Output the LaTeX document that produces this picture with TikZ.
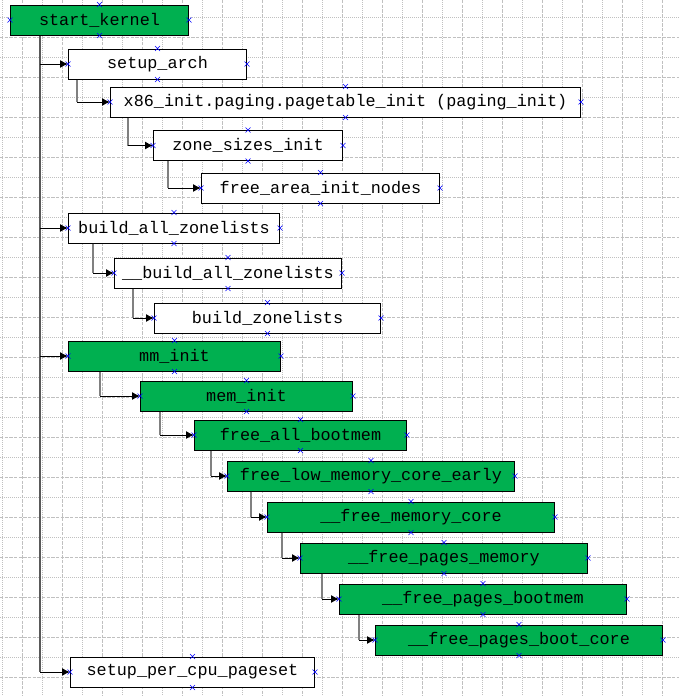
\documentclass[tikz,border=0pt]{standalone}
\usepackage{fontspec}
\setmonofont{Liberation Mono}
\definecolor{VSgreen}{HTML}{00B050}
\definecolor{gridgray}{HTML}{C0C0C0}
\definecolor{ptblue}{HTML}{0000FF}
\usetikzlibrary{arrows.meta,calc}

\begin{document}
\begin{tikzpicture}[x=0.75pt,y=-0.75pt,
  fn/.style={draw=black,line width=0.75pt,fill=white,minimum height=22.5pt,anchor=west,inner sep=0pt,
    font=\ttfamily\fontsize{12.6}{14}\selectfont},
  fngreen/.style={fn,fill=VSgreen},
  minorgrid/.style={gridgray,line width=0.75pt,dash pattern=on 0.75pt off 0.75pt},
  majorgrid/.style={gridgray,line width=0.75pt,dash pattern=on 2.6pt off 0.9pt},
  stem/.style={draw=black!50,line width=1.5pt},
  link/.style={-{Latex[length=6pt,width=6pt]},line width=0.75pt},
  cpt/.style={ptblue,line width=0.5pt}]
  \useasboundingbox (0,0) rectangle (679,696);
  % grid
  \foreach \g in {0,...,16}{
    \draw[minorgrid] (2.7+40*\g,0) -- (2.7+40*\g,696);
    \draw[majorgrid] (22.7+40*\g,0) -- (22.7+40*\g,696);
    \draw[minorgrid] (0,17.3+40*\g) -- (679,17.3+40*\g);
    \draw[majorgrid] (0,37.3+40*\g) -- (679,37.3+40*\g);
  }
  % call tree
  \node[fngreen,minimum width=133.5pt] (startk) at (10,20) {start\_kernel};
  \node[fn,minimum width=133.5pt] (setuparch) at (68,64) {setup\_arch};
  \node[fn,minimum width=352.5pt] (pagetable) at (110,102) {x86\_init.paging.pagetable\_init (paging\_init)};
  \node[fn,minimum width=141.75pt] (zonesizes) at (153,145.5) {zone\_sizes\_init};
  \node[fn,minimum width=178.5pt] (freearea) at (201,188) {free\_area\_init\_nodes};
  \node[fn,minimum width=158.25pt] (buildall) at (68,228) {build\_all\_zonelists};
  \node[fn,minimum width=170.25pt] (ubuildall) at (114,273) {\_\_build\_all\_zonelists};
  \node[fn,minimum width=169.5pt] (buildzl) at (154,318) {build\_zonelists};
  \node[fngreen,minimum width=159pt] (mminit) at (68,356) {mm\_init};
  \node[fngreen,minimum width=159pt] (meminit) at (140,396) {mem\_init};
  \node[fngreen,minimum width=159pt] (freeallbm) at (194,435) {free\_all\_bootmem};
  \node[fngreen,minimum width=215.25pt] (freelow) at (227,476) {free\_low\_memory\_core\_early};
  \node[fngreen,minimum width=215.25pt] (freememcore) at (267,517) {\_\_free\_memory\_core};
  \node[fngreen,minimum width=215.25pt] (freepagesmem) at (300,558) {\_\_free\_pages\_memory};
  \node[fngreen,minimum width=215.25pt] (freepagesbm) at (339,599) {\_\_free\_pages\_bootmem};
  \node[fngreen,minimum width=215.25pt] (bootcore) at (375,640) {\_\_free\_pages\_boot\_core};
  \node[fn,minimum width=183pt] (percpu) at (70,672) {setup\_per\_cpu\_pageset};
  % trunk from start_kernel
  \coordinate (trunk) at ($(startk.south west)+(30,0)$);
  \draw[stem,draw=black!65] (trunk) -- (trunk |- percpu.west);
  \foreach \b in {setuparch,buildall,mminit,percpu}
    \draw[link] (trunk |- \b.west) -- (\b.west);
  % nested calls
  \foreach \a/\b/\dx in {setuparch/pagetable/9,pagetable/zonesizes/18,zonesizes/freearea/15,
      buildall/ubuildall/25,ubuildall/buildzl/19,mminit/meminit/32,meminit/freeallbm/20,
      freeallbm/freelow/17,freelow/freememcore/24,freememcore/freepagesmem/15,
      freepagesmem/freepagesbm/22,freepagesbm/bootcore/20}{
    \coordinate (s) at ($(\a.south west)+(\dx,0)$);
    \draw[stem] (s) -- (s |- \b.west);
    \draw[link] (s |- \b.west) -- (\b.west);
  }
  % connection points
  \foreach \n in {startk,setuparch,pagetable,zonesizes,freearea,buildall,ubuildall,buildzl,
      mminit,meminit,freeallbm,freelow,freememcore,freepagesmem,freepagesbm,bootcore,percpu}
    \foreach \s in {north,south,east,west}
      \draw[cpt] (\n.\s) +(-2.5,-2.5) -- +(2.5,2.5) +(-2.5,2.5) -- +(2.5,-2.5);
\end{tikzpicture}
\end{document}
